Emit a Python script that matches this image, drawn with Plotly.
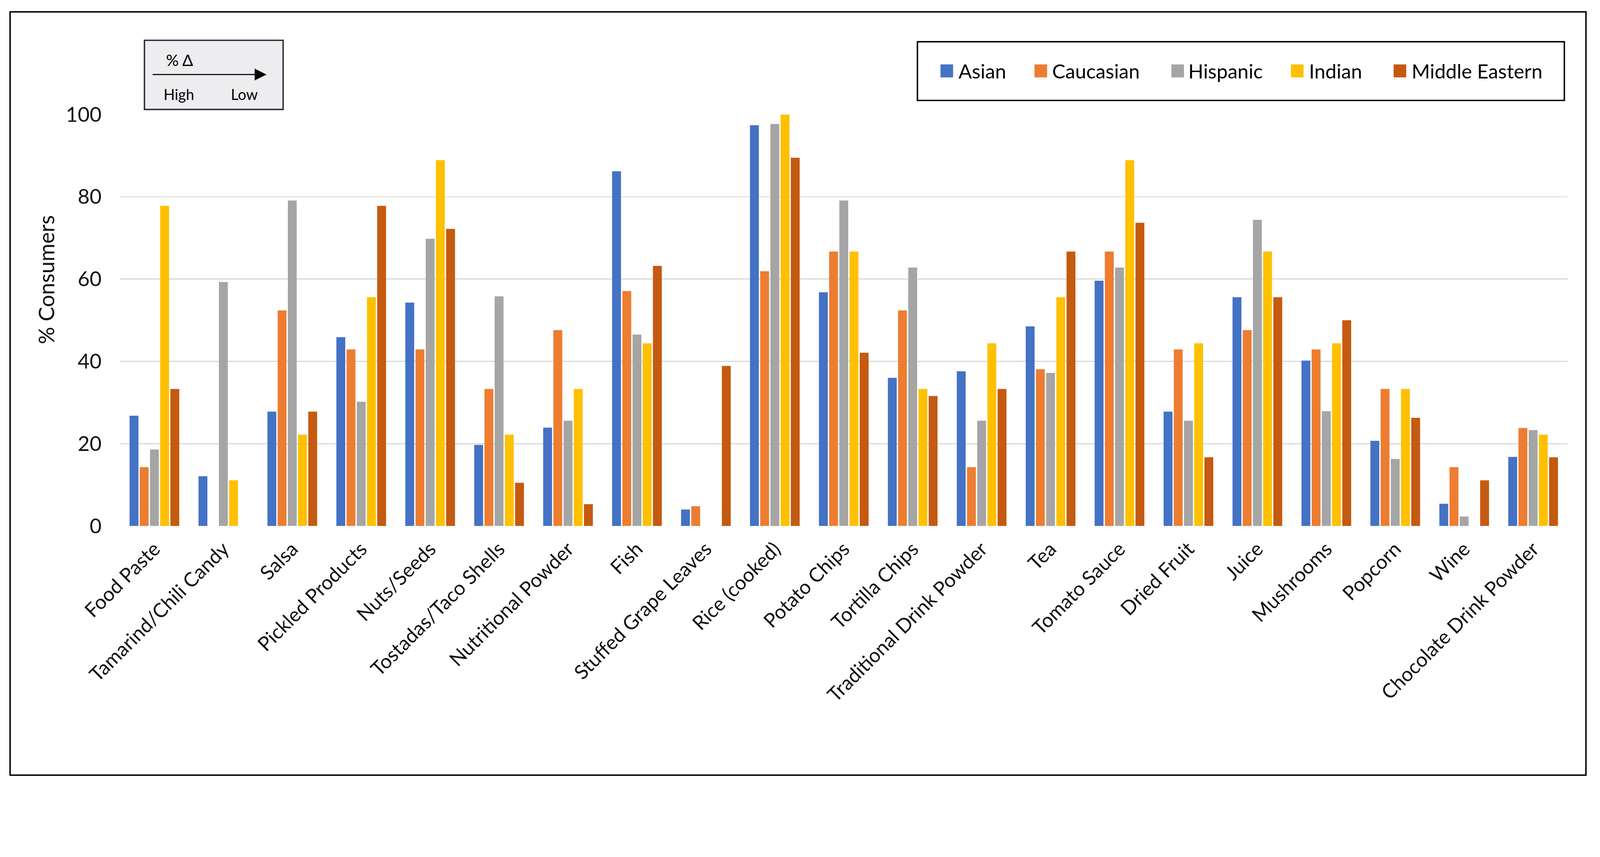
import plotly.graph_objects as go

W, H = 4442, 2195

categories = ["Food Paste", "Tamarind/Chili Candy", "Salsa", "Pickled Products", "Nuts/Seeds",
              "Tostadas/Taco Shells", "Nutritional Powder", "Fish", "Stuffed Grape Leaves",
              "Rice (cooked)", "Potato Chips", "Tortilla Chips", "Traditional Drink Powder", "Tea",
              "Tomato Sauce", "Dried Fruit", "Juice", "Mushrooms", "Popcorn", "Wine",
              "Chocolate Drink Powder"]

series_names = ["Asian", "Caucasian", "Hispanic", "Indian", "Middle Eastern"]
series_colors = ["#4472C4", "#ED7D31", "#A5A5A5", "#FFC000", "#C55A11"]

asian = [26.8, 12.1, 27.8, 45.9, 54.3, 19.7, 23.9, 86.2, 4.0, 97.4, 56.8, 36.0, 37.6, 48.5, 59.6,
         27.8, 55.6, 40.2, 20.7, 5.4, 16.8]
caucasian = [14.3, 0, 52.4, 42.9, 42.9, 33.3, 47.6, 57.1, 4.8, 61.9, 66.7, 52.4, 14.3, 38.1, 66.7,
             42.9, 47.6, 42.9, 33.3, 14.3, 23.8]
hispanic = [18.6, 59.3, 79.1, 30.2, 69.8, 55.8, 25.6, 46.5, 0, 97.7, 79.1, 62.8, 25.6, 37.2, 62.8,
            25.6, 74.4, 27.9, 16.3, 2.3, 23.3]
indian = [77.8, 11.1, 22.2, 55.6, 88.9, 22.2, 33.3, 44.4, 0, 100.0, 66.7, 33.3, 44.4, 55.6, 88.9,
          44.4, 66.7, 44.4, 33.3, 0, 22.2]
middle_eastern = [33.3, 0, 27.8, 77.8, 72.2, 10.5, 5.3, 63.2, 38.9, 89.5, 42.1, 31.6, 33.3, 66.7,
                  73.7, 16.7, 55.6, 50.0, 26.3, 11.1, 16.7]

y_ticks = [0, 20, 40, 60, 80, 100]
y_title = "% Consumers"
note_title = "% Δ"
note_high = "High"
note_low = "Low"

FONT = "Lato"
TXT = "#111111"


def px(x):
    return x / W


def py(y):
    return 1 - y / H


series_values = [asian, caucasian, hispanic, indian, middle_eastern]

fig = go.Figure()
for name, color, vals in zip(series_names, series_colors, series_values):
    fig.add_trace(go.Bar(name=name, x=categories, y=vals, marker_color=color,
                         marker_line_width=0, cliponaxis=False, showlegend=False))

shapes = []
annotations = []

# outer frame
shapes.append(dict(type="rect", xref="paper", yref="paper", x0=px(28), x1=px(4403),
                   y0=py(33), y1=py(2153), line=dict(color="black", width=4),
                   fillcolor="rgba(0,0,0,0)", layer="above"))

# legend box
shapes.append(dict(type="rect", xref="paper", yref="paper", x0=px(2547), x1=px(4343),
                   y0=py(116), y1=py(279), line=dict(color="black", width=4),
                   fillcolor="white"))
leg_sq_x = [2611, 2872, 3252, 3584, 3869]
leg_txt_x = [2659, 2919, 3297, 3632, 3917]
leg_cy = 197
for name, color, sx, tx in zip(series_names, series_colors, leg_sq_x, leg_txt_x):
    shapes.append(dict(type="rect", xref="paper", yref="paper", x0=px(sx), x1=px(sx + 35),
                       y0=py(leg_cy - 18), y1=py(leg_cy + 18), line=dict(width=0),
                       fillcolor=color))
    annotations.append(dict(xref="paper", yref="paper", x=px(tx), y=py(leg_cy), text=name,
                            showarrow=False, xanchor="left", yanchor="middle",
                            font=dict(family=FONT, size=55, color="black")))

# % delta note box
shapes.append(dict(type="rect", xref="paper", yref="paper", x0=px(401), x1=px(786),
                   y0=py(112), y1=py(304), line=dict(color="#2B313A", width=4),
                   fillcolor="#EDEDEF"))
annotations.append(dict(xref="paper", yref="paper", x=px(498), y=py(166), text=note_title,
                        showarrow=False, xanchor="center", yanchor="middle",
                        font=dict(family=FONT, size=44, color="black")))
annotations.append(dict(xref="paper", yref="paper", x=px(496), y=py(262), text=note_high,
                        showarrow=False, xanchor="center", yanchor="middle",
                        font=dict(family=FONT, size=41, color="black")))
annotations.append(dict(xref="paper", yref="paper", x=px(678), y=py(262), text=note_low,
                        showarrow=False, xanchor="center", yanchor="middle",
                        font=dict(family=FONT, size=41, color="black")))
annotations.append(dict(xref="paper", yref="paper", x=px(740), y=py(207), text="",
                        showarrow=True, ax=-318, ay=0, arrowhead=2, arrowsize=2.2,
                        arrowwidth=3, arrowcolor="black", standoff=0))

# y axis title
annotations.append(dict(xref="paper", yref="paper", x=px(128), y=py(777), text=y_title,
                        showarrow=False, textangle=-90, xanchor="center", yanchor="middle",
                        font=dict(family=FONT, size=60, color=TXT)))

fig.update_layout(
    width=W, height=H,
    margin=dict(l=0, r=0, t=0, b=0),
    paper_bgcolor="white", plot_bgcolor="white",
    barmode="group", bargap=0.26, bargroupgap=0.13,
    font=dict(family=FONT, size=54, color=TXT),
    shapes=shapes, annotations=annotations,
    xaxis=dict(domain=[px(333), px(4352)], tickangle=-45, showgrid=False,
               showline=False, ticks="", automargin=False, ticklabelstandoff=20,
               tickfont=dict(family=FONT, size=55, color=TXT)),
    yaxis=dict(domain=[py(1461), py(318)], range=[0, 100], tickvals=y_ticks,
               showgrid=True, gridcolor="#D9D9D9", gridwidth=3, zeroline=False,
               showline=False, ticks="", automargin=False, ticklabelstandoff=50,
               tickfont=dict(family=FONT, size=57, color=TXT)),
)

post = (
    "document.documentElement.style.margin='0';"
    "document.body.style.margin='0';"
    "document.body.style.overflow='hidden';"
    "var gd=document.getElementById('{plot_id}');"
    "var s=Math.min(window.innerWidth/" + str(W) + ", window.innerHeight/" + str(H) + ");"
    "gd.style.transformOrigin='0 0';"
    "gd.style.transform='scale('+s+')';"
)

fig.write_html("out.html", config={"displayModeBar": False}, post_script=post)
